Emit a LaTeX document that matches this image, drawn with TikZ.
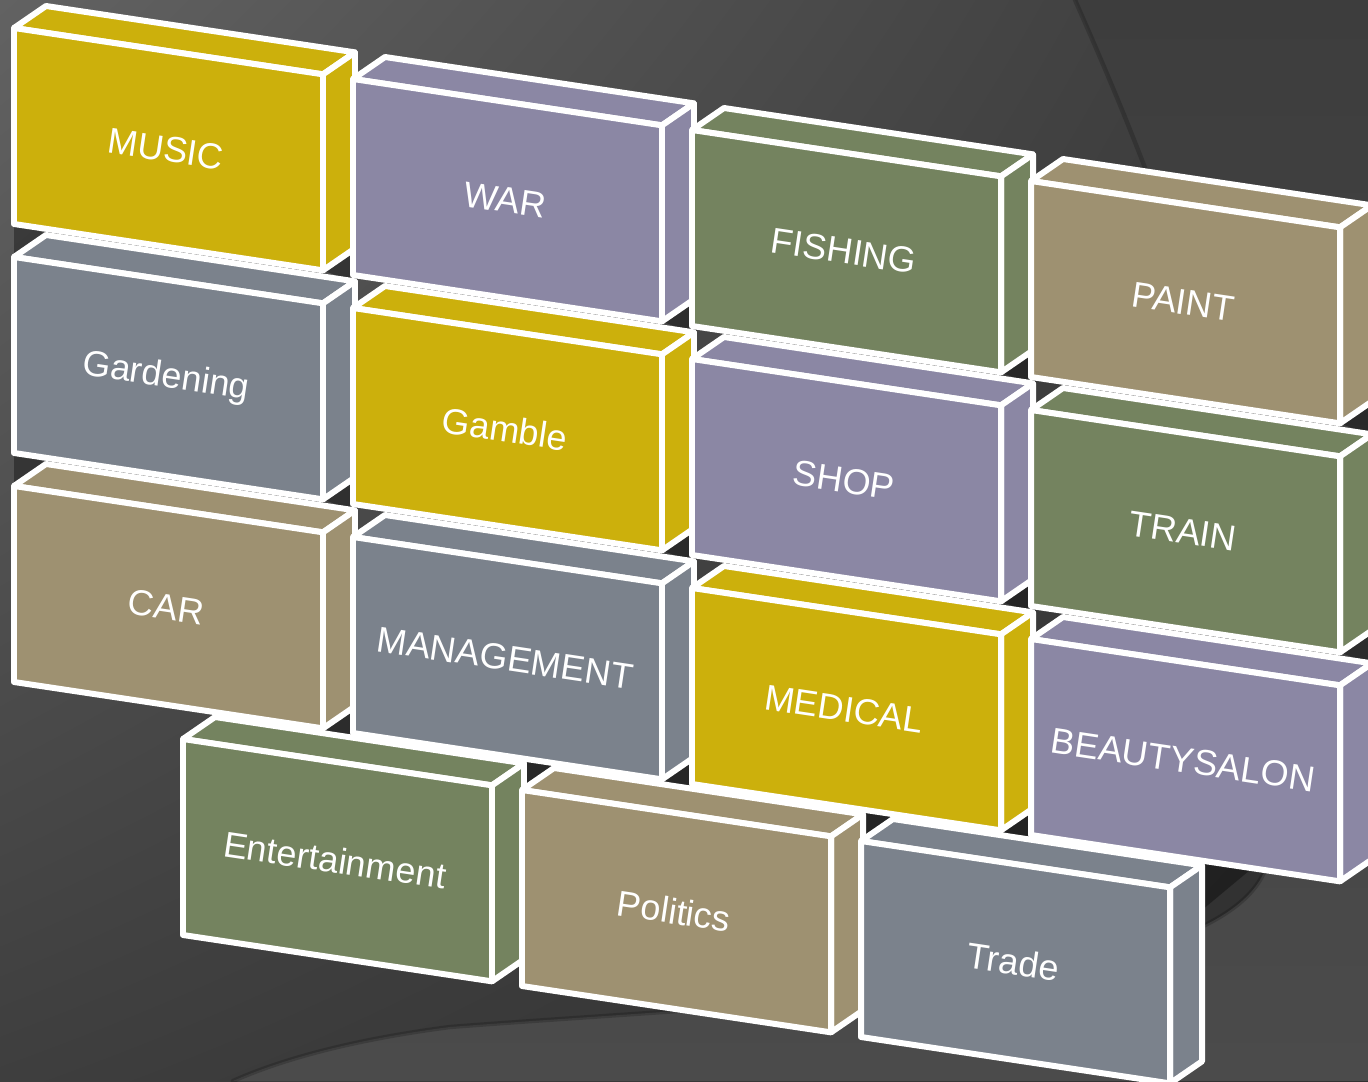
\documentclass[tikz,border=0pt]{standalone}
\usepackage{fontspec}
\setmainfont{Liberation Sans}
\usetikzlibrary{calc,shadings}
\definecolor{brickyellow}{HTML}{CCB00C}
\definecolor{brickviolet}{HTML}{8B87A4}
\definecolor{brickgreen}{HTML}{74835F}
\definecolor{bricktan}{HTML}{9E9171}
\definecolor{brickslate}{HTML}{7B828C}
\definecolor{bgA}{HTML}{626262}
\definecolor{bgB}{HTML}{3A3A3A}
\definecolor{bgC}{HTML}{3E3E3E}
\definecolor{bgD}{HTML}{2E2E2E}
\definecolor{ringtop}{HTML}{3D3D3D}
\definecolor{ringbot}{HTML}{4B4B4B}
\tikzset{face/.style={draw=white,line width=3.4pt,line join=round},
  bricktext/.style={text=white,font=\fontsize{20.5}{24}\selectfont,rotate=-8.53,inner sep=0pt},
  gapshade/.style={fill=black,opacity=.35}}

\begin{document}
\begin{tikzpicture}[line cap=round,line join=round,x=0.02cm,y=-0.02cm]
\useasboundingbox (0,0) rectangle (1368,1081);
\clip (0,0) rectangle (1368,1081);
% background
\shade[upper left=bgA,upper right=bgB,lower left=bgC,lower right=bgD] (0,0) rectangle (1368,1081);
\shade[top color=ringtop,bottom color=ringbot] (1075,0) .. controls (1150,170) and (1300,520) .. (1268,860)
  .. controls (1240,990) and (800,1000) .. (450,1027) .. controls (350,1040) and (280,1060) .. (233,1081)
  -- (1368,1081) -- (1368,0) -- cycle;
\draw[black,opacity=.18,line width=2.5pt] (1075,0) .. controls (1150,170) and (1300,520) .. (1268,860)
  .. controls (1240,990) and (800,1000) .. (450,1027) .. controls (350,1040) and (280,1060) .. (233,1081);
% dark gaps between the bricks
\foreach \x/\y in {14/28,353/79,692/130,1031/181,14/257,353/308,692/359,1031/410,14/486,353/537,692/588}
  \fill[gapshade] (\x+309,\y+242.35) -- ++(34,-23) -- ++(0,36) -- cycle;
\foreach \x/\y in {14/257,14/486,522/790,861/841}
  \fill[gapshade] (\x,\y) -- ++(33,-23) -- ++(-33,-12) -- cycle;
\fill[gapshade] (1202,862) -- (1250,870) -- (1202,910) -- cycle;
% bricks
\foreach \x/\y/\c/\n/\t in {14/28/brickyellow/music/MUSIC, 353/79/brickviolet/war/WAR,
  692/130/brickgreen/fishing/FISHING, 1031/181/bricktan/paint/PAINT,
  14/257/brickslate/gardening/Gardening, 353/308/brickyellow/gamble/Gamble,
  692/359/brickviolet/shop/SHOP, 1031/410/brickgreen/train/TRAIN,
  14/486/bricktan/car/CAR, 353/537/brickslate/management/MANAGEMENT,
  692/588/brickyellow/medical/MEDICAL, 1031/639/brickviolet/beauty/BEAUTYSALON,
  183/739/brickgreen/entertainment/Entertainment, 522/790/bricktan/politics/Politics,
  861/841/brickslate/trade/Trade}{
  \filldraw[face,fill=\c] (\x,\y) -- ++(32,-22) -- ++(309,46.35) -- ++(-32,22) -- cycle;
  \filldraw[face,fill=\c] (\x+309,\y+46.35) -- ++(32,-22) -- ++(0,196) -- ++(-32,22) -- cycle;
  \filldraw[face,fill=\c] (\x,\y) -- ++(309,46.35) -- ++(0,196) -- ++(-309,-46.35) -- cycle;
  \node[bricktext] (\n) at (\x+152,\y+121) {\t};
}
\end{tikzpicture}
\end{document}
